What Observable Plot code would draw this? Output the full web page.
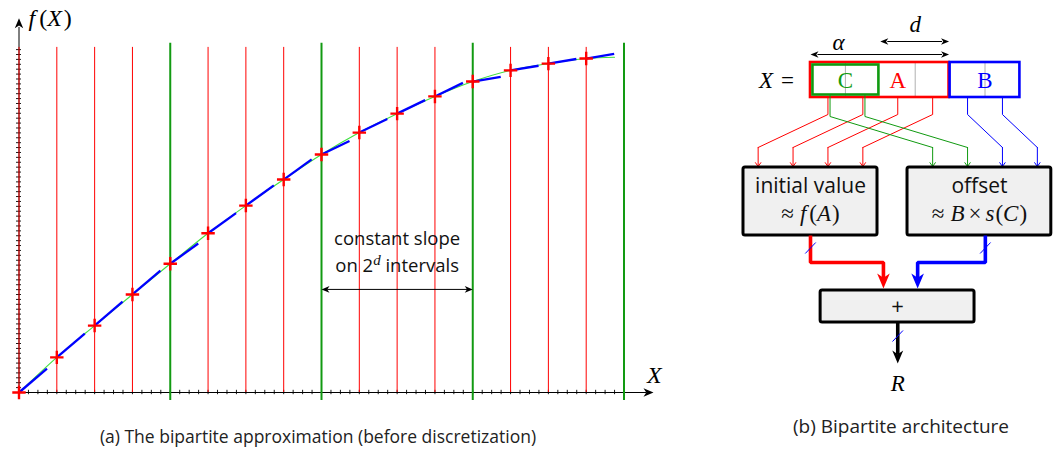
<!DOCTYPE html>
<html><head><meta charset="utf-8">
<script src="https://cdn.jsdelivr.net/npm/d3@7"></script>
<script src="https://cdn.jsdelivr.net/npm/@observablehq/plot@0.6"></script>
<style>
body{margin:0;background:#fff;}
#wrap{position:relative;width:1053px;height:449px;overflow:hidden;font-family:'Open Sans',sans-serif;}
#left{position:absolute;left:0;top:0;}
#right{position:absolute;left:700px;top:0;}
.cap{position:absolute;font-size:17.5px;color:#222;white-space:nowrap;transform:translate(-50%,-50%);line-height:1;}
svg{overflow:visible;}
</style></head><body>
<div id="wrap"><div id="left"></div><div id="right"></div>
<div class="cap" id="capA" style="left:318px;top:437px"></div>
<div class="cap" id="capB" style="left:901px;top:426px;font-size:19px"></div>
</div>
<script>
// ---------- (a) data ----------
const sampleX = [0, 1, 2, 3, 4, 5, 6, 7, 8, 9, 10, 11, 12, 13, 14, 15];
const sampleF = [0, 0.104, 0.198, 0.290, 0.381, 0.471, 0.553, 0.630, 0.704, 0.769, 0.825, 0.876, 0.920, 0.953, 0.973, 0.988];
const curveEndX = 15.75, curveEndF = 0.992;
const intervalSlope = [0.0953, 0.0808, 0.054, 0.0185];   // constant slope per 2^d intervals
const segmentSpan = 0.74;
const redLinesX = [0, 1, 2, 3, 5, 6, 7, 9, 10, 11, 13, 14, 15];
const greenLinesX = [4, 8, 12, 16];
const xTickValues = d3.range(0, 16.01, 0.25);
const yTickValues = d3.range(0, 71).map(i => i / 69);
const annotLines = ["constant slope", "on 2^d intervals"];
const captionA = "(a) The bipartite approximation (before discretization)";

// ---------- (b) data (diagram units: x in bits, y in layout rows) ----------
const fieldsX = [{name: "C", color: "#109a10"}, {name: "A", color: "#ff0000"}, {name: "B", color: "#0000ff"}];
const wires = [
  {id: "r0", color: "#ff0000", src: 0.5, tgt: -1.5}, {id: "r1", color: "#ff0000", src: 1.5, tgt: -0.5},
  {id: "r2", color: "#ff0000", src: 2.5, tgt: 0.5}, {id: "r3", color: "#ff0000", src: 3.5, tgt: 1.5},
  {id: "g0", color: "#109a10", src: 0.56, tgt: 3.5}, {id: "g1", color: "#109a10", src: 1.56, tgt: 4.5},
  {id: "b0", color: "#0000ff", src: 4.5, tgt: 5.5}, {id: "b1", color: "#0000ff", src: 5.5, tgt: 6.5}
];
const boxes = [
  {label1: "initial value", label2: "≈ f(A)", x1: -1.92, x2: 1.92, y1: 167, y2: 235},
  {label1: "offset", label2: "≈ B × s(C)", x1: 2.78, x2: 6.9, y1: 167, y2: 235},
  {label1: "+", label2: "", x1: 0.29, x2: 4.7, y1: 290, y2: 322}
];
const captionB = "(b) Bipartite architecture";
document.getElementById("capA").textContent = captionA;
document.getElementById("capB").textContent = captionB;

// ---------- helpers ----------
const stealth = {draw(ctx, size) {
  const L = Math.sqrt(size / Math.PI) * 2.5, w = 0.42 * L;
  ctx.moveTo(0, 0); ctx.lineTo(w, L); ctx.lineTo(0, 0.72 * L); ctx.lineTo(-w, L); ctx.closePath();
}};
const SERIF = "'Liberation Serif', serif";
const SANS = "'Open Sans', sans-serif";
function enrich(svg, specs) {
  const NS = "http://www.w3.org/2000/svg";
  svg.querySelectorAll("text").forEach(t => {
    const parts = specs[t.textContent];
    if (!parts) return;
    t.textContent = "";
    let shift = 0;
    for (const p of parts) {
      const s = document.createElementNS(NS, "tspan");
      s.textContent = p.t;
      if (p.i) s.setAttribute("font-style", "italic");
      if (p.f) s.setAttribute("font-family", p.f);
      if (p.dx) s.setAttribute("dx", p.dx);
      if (p.sup) { s.setAttribute("font-size", p.sup); s.setAttribute("dy", -7); shift = 7; }
      else if (shift) { s.setAttribute("dy", shift); shift = 0; }
      t.appendChild(s);
    }
  });
}

// ---------- (a) chart ----------
const samples = sampleX.map((X, i) => ({X, f: sampleF[i]}));
const curve = samples.concat([{X: curveEndX, f: curveEndF}]);
const segments = samples.map(d => {
  const k = Math.min(3, Math.floor(d.X / 4));
  return {x1: d.X, y1: d.f, x2: d.X + segmentSpan, y2: d.f + intervalSlope[k] * segmentSpan};
});
const GREEN = "#129a12";
const left = Plot.plot({
  width: 700, height: 415,
  x: {domain: [0, 16], range: [18.5, 623.5], axis: null},
  y: {domain: [0, 1], range: [392, 54], axis: null},
  style: {background: "transparent", overflow: "visible"},
  marks: [
    Plot.ruleY(yTickValues, {x1: -0.066, x2: 0.066, stroke: "#000", strokeWidth: 0.9}),
    Plot.ruleX(xTickValues, {y1: -0.0065, y2: 0.0065, stroke: "#000", strokeWidth: 0.9}),
    Plot.ruleY([0], {x1: 0, x2: 16.6, stroke: "#000", strokeWidth: 1}),
    Plot.ruleX([0], {y1: 0, y2: 1.08, stroke: "#000", strokeWidth: 1}),
    Plot.ruleX(redLinesX, {y1: 0, y2: 1.021, stroke: "#ff0000", strokeWidth: 1}),
    Plot.ruleX(greenLinesX, {y1: -0.024, y2: 1.033, stroke: GREEN, strokeWidth: 2}),
    Plot.dot([{X: 16.78, f: 0}], {x: "X", y: "f", symbol: stealth, r: 4, rotate: 90, fill: "#000"}),
    Plot.dot([{X: 0, f: 1.107}], {x: "X", y: "f", symbol: stealth, r: 4, rotate: 0, fill: "#000"}),
    Plot.line(curve, {x: "X", y: "f", curve: "catmull-rom", stroke: "#3fe03f", strokeWidth: 1.1}),
    Plot.link(segments, {x1: "x1", y1: "y1", x2: "x2", y2: "y2", stroke: "#0000ff", strokeWidth: 2.3}),
    Plot.dot(samples, {x: "X", y: "f", symbol: "plus", r: 4.4, stroke: "#ff0000", strokeWidth: 2.4}),
    Plot.link([{x1: 8.15, x2: 11.85, y: 0.305}], {x1: "x1", x2: "x2", y1: "y", y2: "y", stroke: "#000", strokeWidth: 1}),
    Plot.dot([{X: 8, r: -90}, {X: 12, r: 90}], {x: "X", y: 0.305, rotate: "r", symbol: stealth, r: 3.2, fill: "#000"}),
    Plot.text([annotLines[0]], {x: 10, y: 0.4527, text: d => d, fontFamily: SANS, fontSize: 18.5, fill: "#111"}),
    Plot.text([annotLines[1]], {x: 10, y: 0.373, text: d => d, fontFamily: SANS, fontSize: 18.5, fill: "#111"}),
    Plot.text(["f(X)"], {x: 0.25, y: 1.108, text: d => d, textAnchor: "start", fontFamily: SERIF, fontSize: 24, fill: "#000"}),
    Plot.text(["X"], {x: 16.8, y: 0.05, text: d => d, fontFamily: SERIF, fontStyle: "italic", fontSize: 24, fill: "#000"})
  ]
});
enrich(left, {
  "f(X)": [{t: "f", i: 1}, {t: "(", dx: 4}, {t: "X", i: 1}, {t: ")", dx: 2}],
  "on 2^d intervals": [{t: "on 2"}, {t: "d", i: 1, f: SERIF, sup: 15}, {t: " intervals"}]
});
document.getElementById("left").append(left);

// ---------- (b) diagram ----------
const wirePts = wires.flatMap(w => {
  const kink = w.color === "#109a10" ? 116 : 114;
  const top = w.color === "#109a10" ? 95 : 97;
  return [{id: w.id, c: w.color, x: w.src, y: top}, {id: w.id, c: w.color, x: w.src, y: kink}, {id: w.id, c: w.color, x: w.tgt, y: 147}];
});
const thick = [
  {id: "red", c: "#ff0000", x: 0, y: 235}, {id: "red", c: "#ff0000", x: 0, y: 262}, {id: "red", c: "#ff0000", x: 2.09, y: 262}, {id: "red", c: "#ff0000", x: 2.09, y: 279},
  {id: "blue", c: "#0000ff", x: 5.01, y: 235}, {id: "blue", c: "#0000ff", x: 5.01, y: 262}, {id: "blue", c: "#0000ff", x: 3.07, y: 262}, {id: "blue", c: "#0000ff", x: 3.07, y: 279},
  {id: "out", c: "#000", x: 2.5, y: 322}, {id: "out", c: "#000", x: 2.5, y: 354}
];
const colorHeads = [{x: 2.09, y: 288, c: "#ff0000"}, {x: 3.07, y: 288, c: "#0000ff"}];
const outHead = [{x: 2.5, y: 363}];
const slashes = [{x1: -0.15, y1: 253, x2: 0.15, y2: 242}, {x1: 4.86, y1: 253, x2: 5.16, y2: 242}, {x1: 2.35, y1: 341, x2: 2.65, y2: 330}];
const right = Plot.plot({
  width: 353, height: 415,
  x: {domain: [0, 4], range: [110, 110 + 4 * 34.9], axis: null},
  y: {domain: [0, 415], range: [0, 415], axis: null},
  color: {type: "identity"},
  style: {background: "transparent", overflow: "visible"},
  marks: [
    Plot.ruleX([1, 3, 5], {y1: 63, y2: 96, stroke: "#b0b0b0", strokeWidth: 1}),
    Plot.rect([0], {x1: 0, x2: 3.97, y1: 62, y2: 97, fill: "none", stroke: "#ff0000", strokeWidth: 2.6}),
    Plot.rect([0], {x1: 4.0, x2: 6.0, y1: 62, y2: 97, fill: "none", stroke: "#0000ff", strokeWidth: 2.6}),
    Plot.rect([0], {x1: 0.07, x2: 1.96, y1: 64.5, y2: 94.5, fill: "none", stroke: "#109a10", strokeWidth: 2.6}),
    Plot.text(fieldsX, {x: [1, 2.5, 5], y: 80, text: "name", fill: "color", fontFamily: SERIF, fontSize: 23}),
    Plot.text(["X ="], {x: -0.47, y: 80, text: d => d, textAnchor: "end", fontFamily: SERIF, fontSize: 23, fill: "#000"}),
    Plot.link([{a: 0.2, b: 3.77, y: 54}, {a: 2.2, b: 3.77, y: 41}], {x1: "a", x2: "b", y1: "y", y2: "y", stroke: "#000", strokeWidth: 1}),
    Plot.dot([{x: 0, y: 54, r: -90}, {x: 3.97, y: 54, r: 90}, {x: 2.0, y: 41, r: -90}, {x: 3.97, y: 41, r: 90}], {x: "x", y: "y", rotate: "r", symbol: stealth, r: 3.2, fill: "#000"}),
    Plot.text(["α"], {x: 0.8, y: 42, text: d => d, fontFamily: SERIF, fontStyle: "italic", fontSize: 23, fill: "#000"}),
    Plot.text(["d"], {x: 3.0, y: 24, text: d => d, fontFamily: SERIF, fontStyle: "italic", fontSize: 23, fill: "#000"}),
    Plot.line(wirePts, {x: "x", y: "y", z: "id", stroke: "c", strokeWidth: 1, curve: "linear"}),
    Plot.arrow(wires, {x1: "tgt", x2: "tgt", y1: 147, y2: 166, stroke: "color", strokeWidth: 1, headLength: 7, headAngle: 70}),
    Plot.rect(boxes, {x1: "x1", x2: "x2", y1: "y1", y2: "y2", fill: "#f0f0f0", stroke: "#000", strokeWidth: 3, rx: 2}),
    Plot.text(boxes.slice(0, 2), {x: d => (d.x1 + d.x2) / 2, y: 186, text: "label1", fontFamily: SANS, fontSize: 21, fill: "#111"}),
    Plot.text(boxes.slice(0, 2), {x: d => (d.x1 + d.x2) / 2, y: 213, text: "label2", fontFamily: SERIF, fontSize: 23, fill: "#111"}),
    Plot.text(boxes.slice(2), {x: d => (d.x1 + d.x2) / 2, y: 306, text: "label1", fontFamily: SANS, fontSize: 22, fill: "#111"}),
    Plot.line(thick, {x: "x", y: "y", z: "id", stroke: "c", strokeWidth: 3.6, strokeLinejoin: "miter", strokeLinecap: "butt"}),
    Plot.dot(colorHeads, {x: "x", y: "y", r: 6, fill: "c", symbol: stealth, rotate: 180}),
    Plot.dot(outHead, {x: "x", y: "y", r: 5.2, fill: "#000", symbol: stealth, rotate: 180}),
    Plot.link(slashes, {x1: "x1", y1: "y1", x2: "x2", y2: "y2", stroke: "#0000ff", strokeWidth: 1}),
    Plot.text(["R"], {x: 2.5, y: 383, text: d => d, fontFamily: SERIF, fontStyle: "italic", fontSize: 23, fill: "#000"})
  ]
});
enrich(right, {
  "X =": [{t: "X", i: 1}, {t: "=", dx: 8}],
  "≈ f(A)": [{t: "≈"}, {t: "f", i: 1, dx: 6}, {t: "(", dx: 3}, {t: "A", i: 1}, {t: ")", dx: 1}],
  "≈ B × s(C)": [{t: "≈"}, {t: "B", i: 1, dx: 6}, {t: "×", dx: 4}, {t: "s", i: 1, dx: 4}, {t: "(", dx: 1}, {t: "C", i: 1}, {t: ")", dx: 1}]
});
document.getElementById("right").append(right);
</script>
</body></html>
